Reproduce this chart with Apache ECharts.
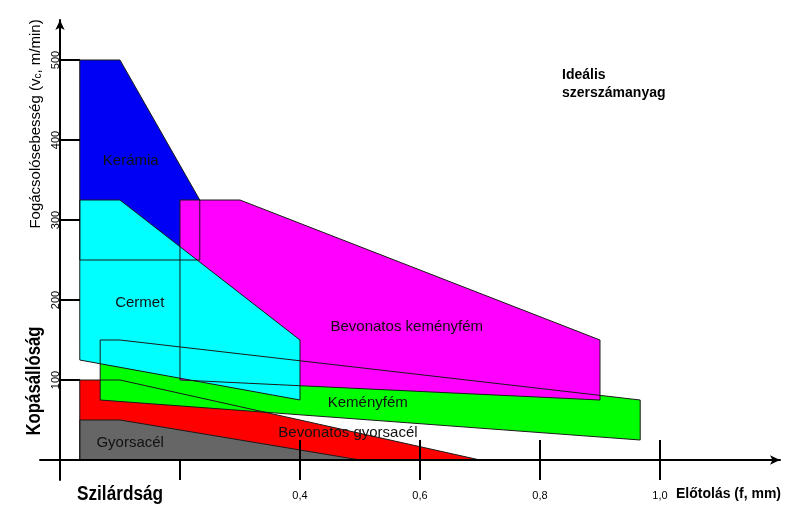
<!DOCTYPE html>
<html>
<head>
<meta charset="utf-8">
<script src="https://cdn.jsdelivr.net/npm/echarts@6/dist/echarts.min.js"></script>
<style>
  html, body { margin: 0; background: #fff; }
  #chart { width: 800px; height: 520px; }
</style>
</head>
<body>
<div id="chart"></div>
<script>
// anyagok, rajzolási sorrendben (alulról felfelé)
const materials = ['Bevonatos gyorsacél', 'Gyorsacél', 'Keményfém', 'Kerámia', 'Bevonatos keményfém', 'Cermet'];

// tartományok: [előtolás f (mm), vágósebesség vc (m/min)]
const bevGyorsacel = [[0.033, 100], [0.1, 100], [0.7, 0], [0.033, 0]];
const gyorsacel = [[0.033, 50], [0.1, 50], [0.5, 0], [0.033, 0]];
const kemenyfem = [[0.067, 150], [0.1, 150], [0.967, 75], [0.967, 25], [0.067, 75]];
const keramia = [[0.033, 500], [0.1, 500], [0.233, 325], [0.233, 250], [0.033, 250]];
const bevKemenyfem = [[0.2, 325], [0.3, 325], [0.9, 150], [0.9, 75], [0.2, 100]];
const cermet = [[0.033, 325], [0.1, 325], [0.4, 150], [0.4, 75], [0.033, 125]];

const xTicks = [0.2, 0.4, 0.6, 0.8, 1.0];
const xLabels = [0.4, 0.6, 0.8, 1.0];
const yTicks = [100, 200, 300, 400, 500];

const shapes = [bevGyorsacel, gyorsacel, kemenyfem, keramia, bevKemenyfem, cermet];
const colors = ['#ff0000', '#666666', '#00ff00', '#0000f5', '#ff00ff', '#00ffff'];
// felirat helye adatkoordinátában
const labelAt = [[0.48, 34], [0.117, 21], [0.513, 71], [0.118, 374], [0.578, 166], [0.133, 197]];

const font = '"Liberation Sans", Arial, sans-serif';
const itemData = materials.map((m, i) => [i]);

const myChart = echarts.init(document.getElementById('chart'));

const option = {
    animation: false,
    textStyle: { fontFamily: font },
    grid: { left: 40, right: 20, top: 20, bottom: 40 },
    xAxis: {
        type: 'value',
        min: -0.0333,
        max: 1.2,
        splitLine: { show: false },
        z: 5,
        axisLine: {
            onZero: true,
            symbol: ['none', 'arrow'],
            symbolSize: [7, 10],
            lineStyle: { color: '#000', width: 2 }
        },
        axisTick: {
            customValues: xTicks,
            length: 20,
            lineStyle: { color: '#000', width: 2 }
        },
        axisLabel: {
            customValues: xLabels,
            margin: 10,
            fontSize: 11,
            color: '#000',
            formatter: (v) => v.toFixed(1).replace('.', ',')
        }
    },
    yAxis: {
        type: 'value',
        min: -25,
        max: 550,
        splitLine: { show: false },
        z: 5,
        axisLine: {
            onZero: true,
            symbol: ['none', 'arrow'],
            symbolSize: [7, 10],
            lineStyle: { color: '#000', width: 2 }
        },
        axisTick: {
            customValues: yTicks,
            inside: true,
            length: 20,
            lineStyle: { color: '#000', width: 2 }
        },
        axisLabel: {
            customValues: yTicks,
            rotate: 90,
            margin: -21,
            fontSize: 11,
            color: '#000'
        }
    },
    series: [
        {
            name: 'kitöltés',
            type: 'custom',
            z: 2,
            data: itemData,
            renderItem: (params, api) => {
                const i = api.value(0);
                return {
                    type: 'polygon',
                    shape: { points: shapes[i].map((p) => api.coord(p)) },
                    style: { fill: colors[i] }
                };
            }
        },
        {
            name: 'körvonal',
            type: 'custom',
            z: 3,
            data: itemData,
            renderItem: (params, api) => {
                const i = api.value(0);
                return {
                    type: 'polygon',
                    shape: { points: shapes[i].map((p) => api.coord(p)) },
                    style: { fill: 'none', stroke: '#1a1a1a', lineWidth: 1 }
                };
            }
        },
        {
            // a beosztások tengely feletti fele
            name: 'beosztás',
            type: 'custom',
            z: 5,
            data: xLabels.map((v) => [v]),
            renderItem: (params, api) => {
                const p = api.coord([api.value(0), 0]);
                return {
                    type: 'line',
                    shape: { x1: p[0], y1: p[1], x2: p[0], y2: p[1] - 20 },
                    style: { stroke: '#000', lineWidth: 2 }
                };
            }
        },
        {
            name: 'felirat',
            type: 'custom',
            z: 6,
            data: itemData,
            renderItem: (params, api) => {
                const i = api.value(0);
                const p = api.coord(labelAt[i]);
                return {
                    type: 'text',
                    x: p[0],
                    y: p[1],
                    style: {
                        text: materials[i],
                        fontSize: 15,
                        fontFamily: font,
                        fill: '#111',
                        align: 'center',
                        verticalAlign: 'middle'
                    }
                };
            }
        }
    ],
    graphic: [
        {
            type: 'text',
            x: 36,
            y: 124,
            rotation: Math.PI / 2,
            style: {
                text: 'Fogácsolósebesség (v{s|c}, m/min)',
                rich: { s: { fontSize: 10, verticalAlign: 'bottom', fontFamily: font } },
                fontSize: 15,
                fontFamily: font,
                fill: '#000',
                align: 'center',
                verticalAlign: 'middle'
            }
        },
        {
            type: 'text',
            x: 34,
            y: 381,
            rotation: Math.PI / 2,
            scaleX: 0.84,
            style: {
                text: 'Kopásállóság',
                fontSize: 20,
                fontWeight: 'bold',
                fontFamily: font,
                fill: '#000',
                align: 'center',
                verticalAlign: 'middle'
            }
        },
        {
            type: 'text',
            x: 77,
            y: 494,
            scaleX: 0.86,
            style: {
                text: 'Szilárdság',
                fontSize: 20,
                fontWeight: 'bold',
                fontFamily: font,
                fill: '#000',
                align: 'left',
                verticalAlign: 'middle'
            }
        },
        {
            type: 'text',
            x: 676,
            y: 494,
            style: {
                text: 'Előtolás (f, mm)',
                fontSize: 14,
                fontWeight: 'bold',
                fontFamily: font,
                fill: '#000',
                align: 'left',
                verticalAlign: 'middle'
            }
        },
        {
            type: 'text',
            x: 562,
            y: 84,
            style: {
                text: 'Ideális\nszerszámanyag',
                fontSize: 14,
                lineHeight: 18,
                fontWeight: 'bold',
                fontFamily: font,
                fill: '#000',
                align: 'left',
                verticalAlign: 'middle'
            }
        }
    ]
};

myChart.setOption(option);
window.addEventListener('resize', function () {
    myChart.resize();
});
</script>
</body>
</html>
